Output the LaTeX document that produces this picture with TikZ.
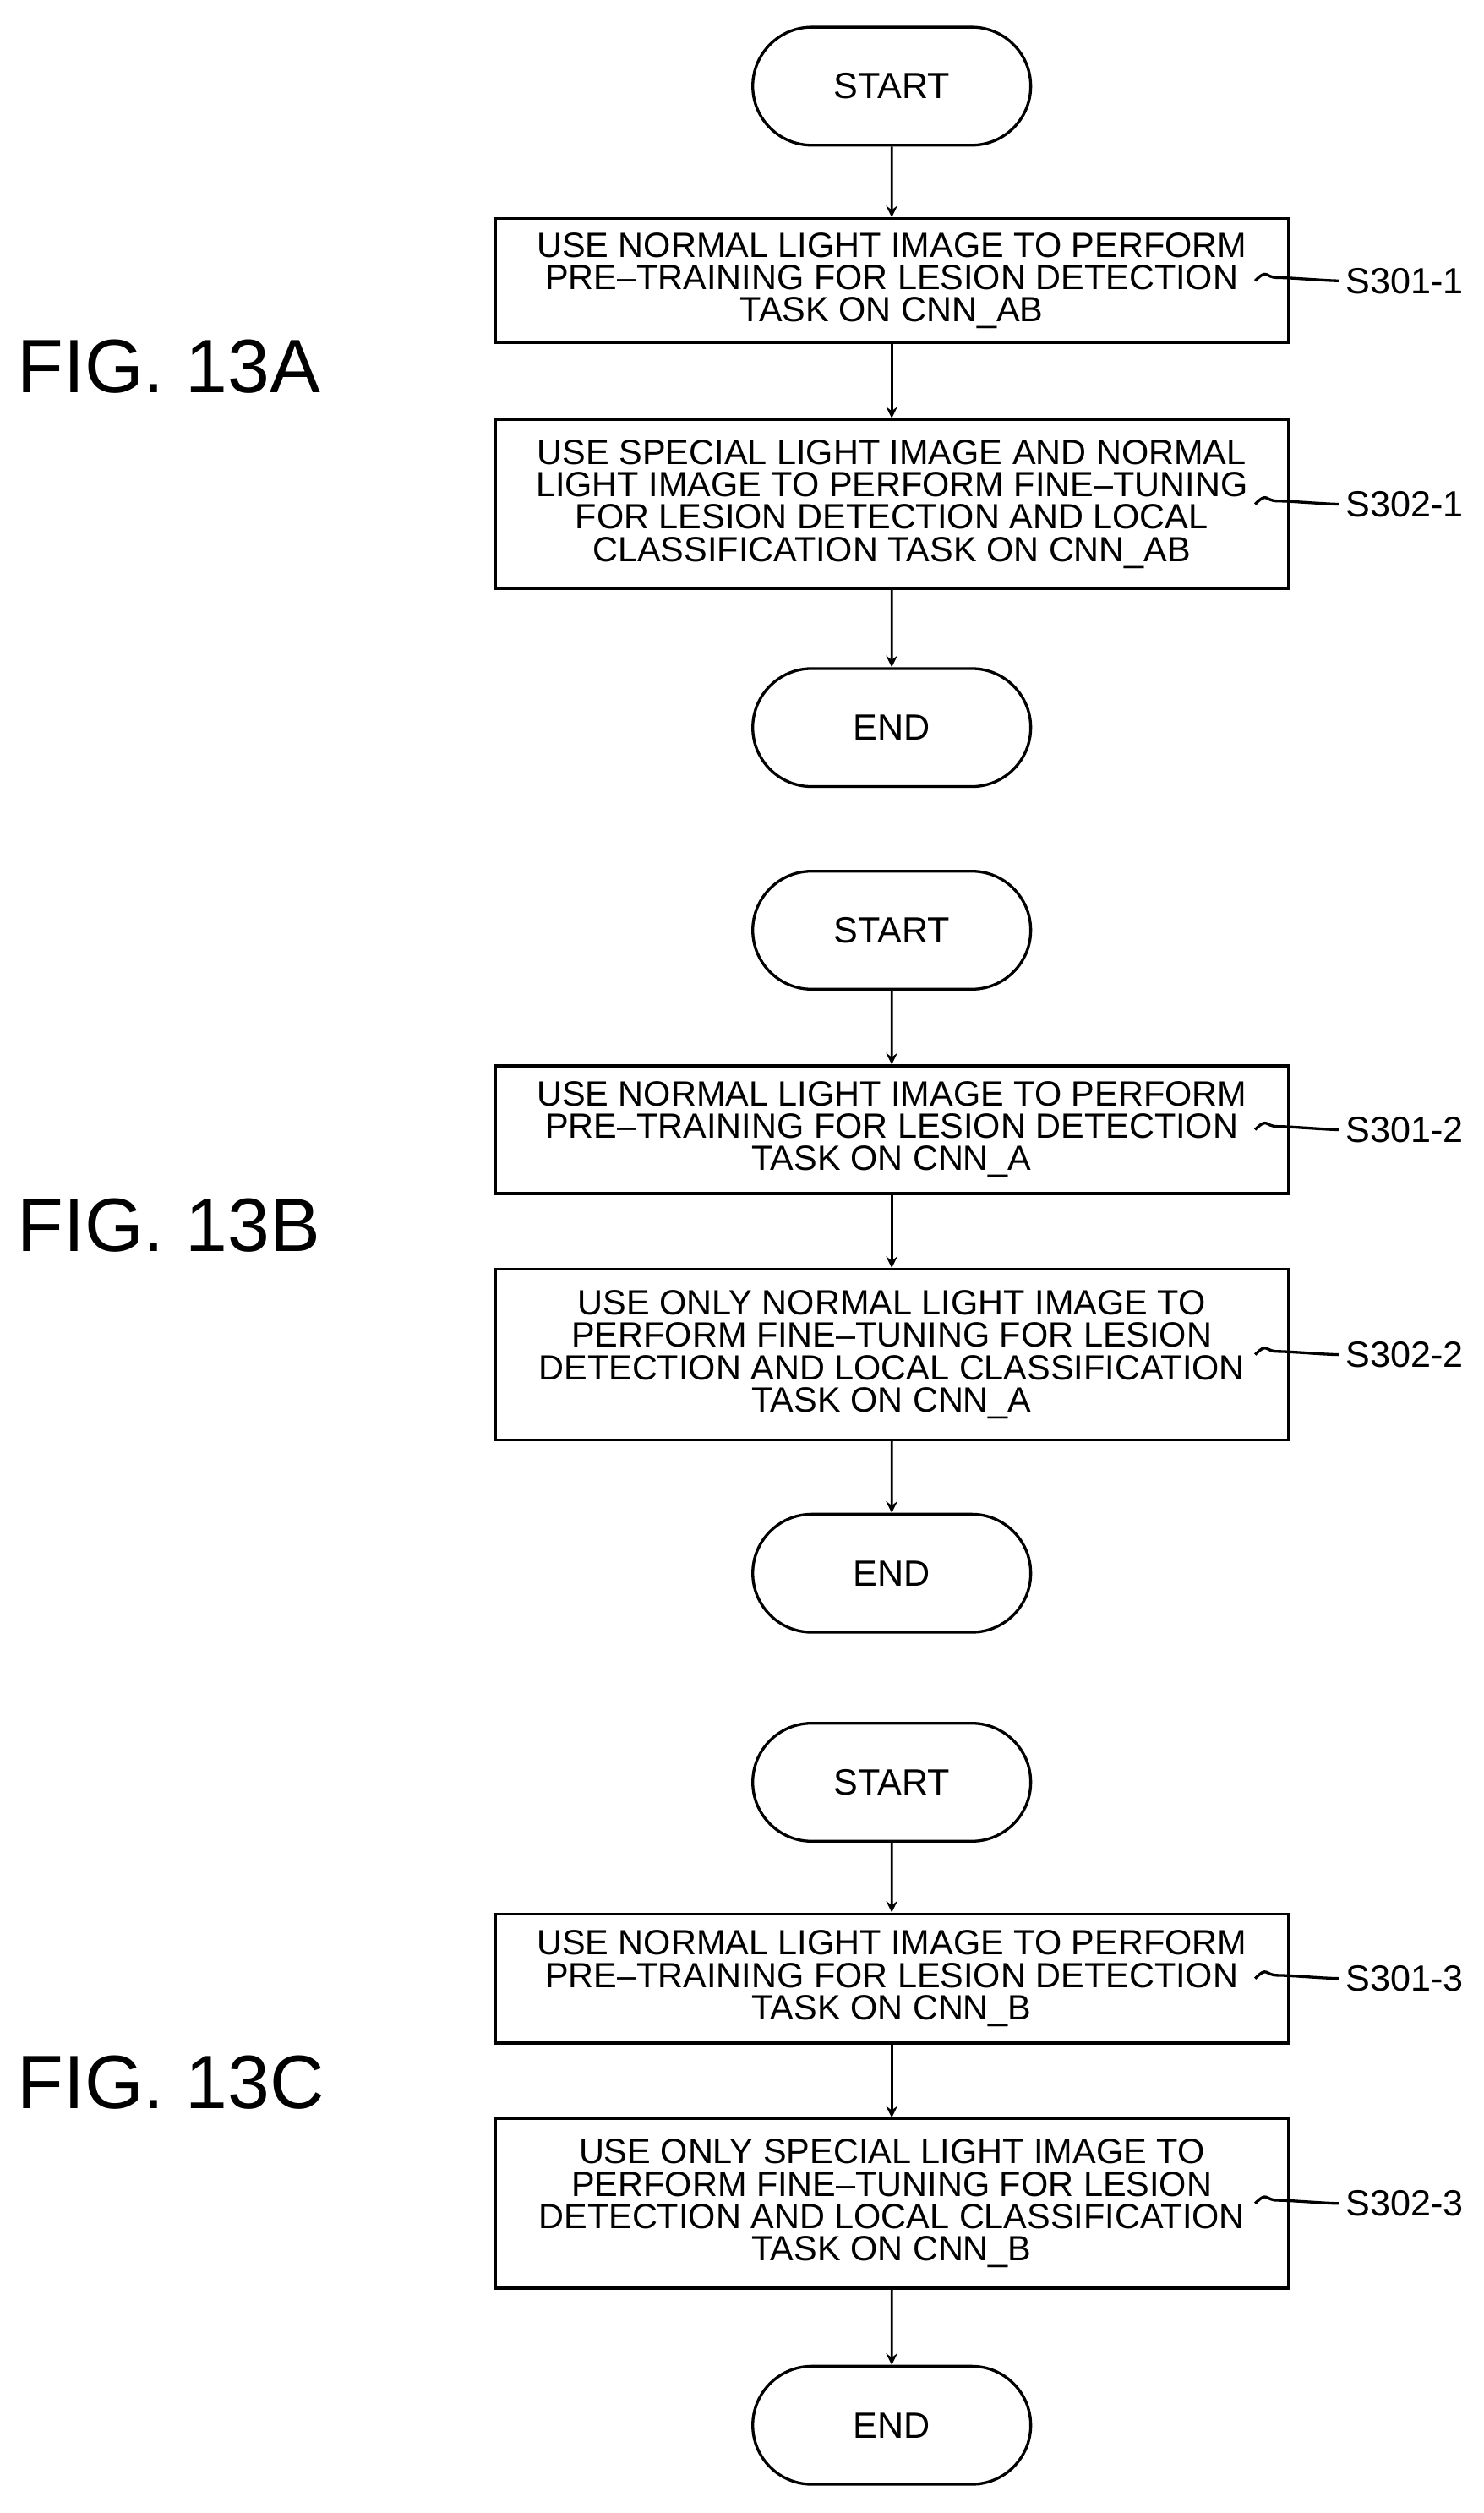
\documentclass[tikz,border=0pt]{standalone}
\usepackage{fontspec}
\setmainfont{Liberation Sans}
\usetikzlibrary{shapes.misc}
\begin{document}
\begin{tikzpicture}[x=0.02cm,y=-0.02cm,line width=1pt,
	term/.style={draw,rounded rectangle,minimum width=3.72cm,minimum height=1.48cm,font=\fontsize{13}{14}\selectfont},
	procbox/.style={draw,minimum width=9.94cm,align=center,inner sep=2pt,font=\fontsize{12.5}{11.5}\selectfont},
	steplab/.style={anchor=west,inner sep=0pt,font=\fontsize{13}{14}\selectfont},
	fig/.style={anchor=west,inner sep=0pt,font=\fontsize{27}{30}\selectfont},
	arr/.style={->,>=stealth,line width=0.8pt}]
	\useasboundingbox (0,0) rectangle (930,1575);
	% FIG. 13A
	\node [term] (startA) at (559,54) {START};
	\node [procbox,minimum height=1.56cm] (a1) at (559,176) {USE NORMAL LIGHT IMAGE TO PERFORM\\PRE--TRAINING FOR LESION DETECTION\\TASK ON CNN\_AB};
	\node [procbox,minimum height=2.12cm] (a2) at (559,316) {USE SPECIAL LIGHT IMAGE AND NORMAL\\LIGHT IMAGE TO PERFORM FINE--TUNING\\FOR LESION DETECTION AND LOCAL\\CLASSIFICATION TASK ON CNN\_AB};
	\node [term] (endA) at (559,456) {END};
	\node [steplab] (la1) at (843,176) {S301-1};
	\node [steplab] (la2) at (843,316) {S302-1};
	\node [fig] (figA) at (10,230) {FIG. 13A};
	\draw [arr] (startA) -- (a1);
	\draw [arr] (a1) -- (a2);
	\draw [arr] (a2) -- (endA);
	\draw ([xshift=-32]la1.west) .. controls +(8,-8) and +(-8,0) .. +(14,-2) .. controls +(8,0) and +(-8,0) .. ([xshift=-2]la1.west);
	\draw ([xshift=-32]la2.west) .. controls +(8,-8) and +(-8,0) .. +(14,-2) .. controls +(8,0) and +(-8,0) .. ([xshift=-2]la2.west);
	% FIG. 13B
	\node [term] (startB) at (559,583) {START};
	\node [procbox,minimum height=1.6cm] (b1) at (559,708) {USE NORMAL LIGHT IMAGE TO PERFORM\\PRE--TRAINING FOR LESION DETECTION\\TASK ON CNN\_A};
	\node [procbox,minimum height=2.14cm] (b2) at (559,849) {USE ONLY NORMAL LIGHT IMAGE TO\\PERFORM FINE--TUNING FOR LESION\\DETECTION AND LOCAL CLASSIFICATION\\TASK ON CNN\_A};
	\node [term] (endB) at (559,986) {END};
	\node [steplab] (lb1) at (843,708) {S301-2};
	\node [steplab] (lb2) at (843,849) {S302-2};
	\node [fig] (figB) at (10,768) {FIG. 13B};
	\draw [arr] (startB) -- (b1);
	\draw [arr] (b1) -- (b2);
	\draw [arr] (b2) -- (endB);
	\draw ([xshift=-32]lb1.west) .. controls +(8,-8) and +(-8,0) .. +(14,-2) .. controls +(8,0) and +(-8,0) .. ([xshift=-2]lb1.west);
	\draw ([xshift=-32]lb2.west) .. controls +(8,-8) and +(-8,0) .. +(14,-2) .. controls +(8,0) and +(-8,0) .. ([xshift=-2]lb2.west);
	% FIG. 13C
	\node [term] (startC) at (559,1117) {START};
	\node [procbox,minimum height=1.62cm] (c1) at (559,1240) {USE NORMAL LIGHT IMAGE TO PERFORM\\PRE--TRAINING FOR LESION DETECTION\\TASK ON CNN\_B};
	\node [procbox,minimum height=2.12cm] (c2) at (559,1381) {USE ONLY SPECIAL LIGHT IMAGE TO\\PERFORM FINE--TUNING FOR LESION\\DETECTION AND LOCAL CLASSIFICATION\\TASK ON CNN\_B};
	\node [term] (endC) at (559,1520) {END};
	\node [steplab] (lc1) at (843,1240) {S301-3};
	\node [steplab] (lc2) at (843,1381) {S302-3};
	\node [fig] (figC) at (10,1305) {FIG. 13C};
	\draw [arr] (startC) -- (c1);
	\draw [arr] (c1) -- (c2);
	\draw [arr] (c2) -- (endC);
	\draw ([xshift=-32]lc1.west) .. controls +(8,-8) and +(-8,0) .. +(14,-2) .. controls +(8,0) and +(-8,0) .. ([xshift=-2]lc1.west);
	\draw ([xshift=-32]lc2.west) .. controls +(8,-8) and +(-8,0) .. +(14,-2) .. controls +(8,0) and +(-8,0) .. ([xshift=-2]lc2.west);
\end{tikzpicture}
\end{document}
